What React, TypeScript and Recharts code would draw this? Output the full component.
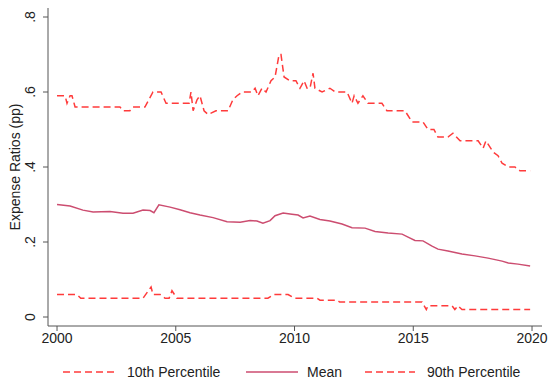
import { Legend, Line, LineChart, XAxis, YAxis } from "recharts";

// breakpoints: [year, value]
const p10Points: [number, number][] = [
  [2000.0, 0.06], [2000.84, 0.06], [2001.0, 0.05], [2003.62, 0.05],
  [2003.96, 0.08], [2004.04, 0.06], [2004.34, 0.06], [2004.55, 0.05],
  [2004.72, 0.05], [2004.84, 0.07], [2005.05, 0.05], [2008.88, 0.05],
  [2009.14, 0.06], [2009.73, 0.06], [2010.0, 0.05], [2010.95, 0.05],
  [2011.07, 0.045], [2011.8, 0.045], [2011.9, 0.04], [2015.37, 0.04],
  [2015.55, 0.02], [2015.62, 0.03], [2016.63, 0.03], [2016.75, 0.02],
  [2016.88, 0.03], [2017.05, 0.02], [2019.92, 0.02],
];

const meanPoints: [number, number][] = [
  [2000.0, 0.3], [2000.55, 0.296], [2001.09, 0.285], [2001.52, 0.28],
  [2002.23, 0.281], [2002.78, 0.277], [2003.2, 0.277], [2003.62, 0.285],
  [2003.92, 0.284], [2004.08, 0.278], [2004.29, 0.299], [2004.76, 0.293],
  [2005.18, 0.286], [2005.6, 0.278], [2006.02, 0.272], [2006.57, 0.265],
  [2007.16, 0.254], [2007.71, 0.253], [2008.13, 0.257], [2008.42, 0.256],
  [2008.67, 0.25], [2008.97, 0.257], [2009.18, 0.27], [2009.52, 0.277],
  [2009.89, 0.274], [2010.15, 0.272], [2010.36, 0.264], [2010.65, 0.269],
  [2011.07, 0.26], [2011.49, 0.256], [2012.0, 0.248], [2012.42, 0.238],
  [2012.97, 0.237], [2013.39, 0.228], [2013.94, 0.224], [2014.53, 0.221],
  [2014.78, 0.213], [2015.07, 0.204], [2015.41, 0.203], [2015.79, 0.189],
  [2016.04, 0.181], [2016.46, 0.176], [2017.05, 0.168], [2017.6, 0.163],
  [2018.15, 0.157], [2018.74, 0.149], [2019.0, 0.144], [2019.41, 0.141],
  [2019.92, 0.136],
];

const p90Points: [number, number][] = [
  [2000.0, 0.59], [2000.34, 0.59], [2000.42, 0.57], [2000.55, 0.59],
  [2000.63, 0.59], [2000.76, 0.56], [2002.65, 0.56], [2002.78, 0.55],
  [2003.07, 0.55], [2003.2, 0.56], [2003.7, 0.56], [2004.04, 0.6],
  [2004.38, 0.6], [2004.59, 0.57], [2005.56, 0.57], [2005.64, 0.6],
  [2005.73, 0.55], [2005.9, 0.58], [2006.02, 0.59], [2006.19, 0.55],
  [2006.36, 0.54], [2006.69, 0.55], [2007.2, 0.55], [2007.41, 0.58],
  [2007.58, 0.59], [2007.79, 0.6], [2008.21, 0.6], [2008.34, 0.61],
  [2008.46, 0.59], [2008.63, 0.61], [2008.8, 0.6], [2009.01, 0.63],
  [2009.18, 0.64], [2009.35, 0.7], [2009.43, 0.7], [2009.56, 0.64],
  [2009.81, 0.63], [2010.06, 0.63], [2010.23, 0.61], [2010.4, 0.63],
  [2010.53, 0.61], [2010.65, 0.61], [2010.78, 0.65], [2010.86, 0.61],
  [2011.16, 0.6], [2011.49, 0.61], [2011.71, 0.6], [2012.21, 0.6],
  [2012.42, 0.57], [2012.51, 0.59], [2012.67, 0.57], [2012.88, 0.59],
  [2013.09, 0.57], [2013.68, 0.57], [2013.89, 0.55], [2014.65, 0.55],
  [2014.95, 0.52], [2015.41, 0.52], [2015.62, 0.5], [2015.87, 0.5],
  [2016.04, 0.48], [2016.46, 0.48], [2016.67, 0.49], [2016.97, 0.47],
  [2017.73, 0.47], [2017.94, 0.45], [2018.06, 0.47], [2018.36, 0.44],
  [2018.57, 0.43], [2018.74, 0.41], [2019.0, 0.4], [2019.28, 0.4],
  [2019.49, 0.39], [2019.92, 0.39],
];

const xTicks = [2000, 2005, 2010, 2015, 2020];
const yTicks = [0, 0.2, 0.4, 0.6, 0.8];

const toRows = (pts: [number, number][]) => pts.map(([t, v]) => ({ t, v }));

const RED = "#ff3b3b";
const MEAN = "#cc4d70";
const FONT = "'Liberation Sans', Arial, Helvetica, sans-serif";
const FS = 14;

const fmtY = (v: number) => (v === 0 ? "0" : v.toFixed(1).replace(/^0/, ""));

function YTick(props: any) {
  const { x, y, payload } = props;
  const cx = x - 6;
  return (
    <text
      x={cx}
      y={y}
      transform={`rotate(-90 ${cx} ${y})`}
      textAnchor="middle"
      fontSize={FS}
      fontFamily={FONT}
      fill="#222"
    >
      {fmtY(payload.value)}
    </text>
  );
}

// legend layout: where each key line starts, its length, where the text starts
const legendItems = [
  { name: "10th Percentile", color: RED, dash: "7 4", lineX: 63, lineW: 54, textX: 127 },
  { name: "Mean", color: MEAN, dash: undefined, lineX: 246, lineW: 52, textX: 307 },
  { name: "90th Percentile", color: RED, dash: "7 4", lineX: 365, lineW: 50, textX: 427 },
];

function LegendBox() {
  return (
    <div
      style={{
        position: "relative",
        height: 28,
        width: 550,
        fontFamily: FONT,
        fontSize: FS,
        color: "#222",
      }}
    >
      {legendItems.map((it) => (
        <div key={it.name}>
          <svg
            width={it.lineW}
            height={6}
            style={{ position: "absolute", left: it.lineX, top: 17 }}
          >
            <line
              x1={0}
              x2={it.lineW}
              y1={3}
              y2={3}
              stroke={it.color}
              strokeWidth={1.5}
              strokeDasharray={it.dash}
            />
          </svg>
          <span
            style={{ position: "absolute", left: it.textX, top: 11, lineHeight: "18px" }}
          >
            {it.name}
          </span>
        </div>
      ))}
    </div>
  );
}

export default function App() {
  return (
    <div style={{ position: "absolute", left: 0, top: 0, background: "#fff" }}>
      <LineChart
        width={550}
        height={380}
        margin={{ top: 8, right: 8, left: 0, bottom: 0 }}
      >
        <XAxis
          type="number"
          dataKey="t"
          domain={[1999.62, 2020.42]}
          ticks={xTicks}
          allowDataOverflow
          height={26}
          stroke="#555"
          tickSize={5}
          tick={{ fontSize: FS, fontFamily: FONT, fill: "#222" }}
        />
        <YAxis
          type="number"
          dataKey="v"
          domain={[-0.024, 0.824]}
          ticks={yTicks}
          allowDataOverflow
          width={48}
          stroke="#555"
          tickSize={5}
          tick={<YTick />}
          label={(p: any) => {
            const vb = p.viewBox || { x: 0, y: 8, width: 48, height: 318 };
            const cx = 15;
            const cy = vb.y + vb.height / 2;
            return (
              <text
                x={cx}
                y={cy}
                transform={`rotate(-90 ${cx} ${cy})`}
                textAnchor="middle"
                dominantBaseline="central"
                fontSize={FS}
                fontFamily={FONT}
                fill="#222"
              >
                Expense Ratios (pp)
              </text>
            );
          }}
        />
        <Legend verticalAlign="bottom" content={() => <LegendBox />} />
        <Line
          data={toRows(p10Points)}
          dataKey="v"
          name="10th Percentile"
          type="linear"
          stroke={RED}
          strokeWidth={1.5}
          strokeDasharray="7 4"
          dot={false}
          isAnimationActive={false}
        />
        <Line
          data={toRows(meanPoints)}
          dataKey="v"
          name="Mean"
          type="linear"
          stroke={MEAN}
          strokeWidth={1.5}
          dot={false}
          isAnimationActive={false}
        />
        <Line
          data={toRows(p90Points)}
          dataKey="v"
          name="90th Percentile"
          type="linear"
          stroke={RED}
          strokeWidth={1.5}
          strokeDasharray="7 4"
          dot={false}
          isAnimationActive={false}
        />
      </LineChart>
    </div>
  );
}
